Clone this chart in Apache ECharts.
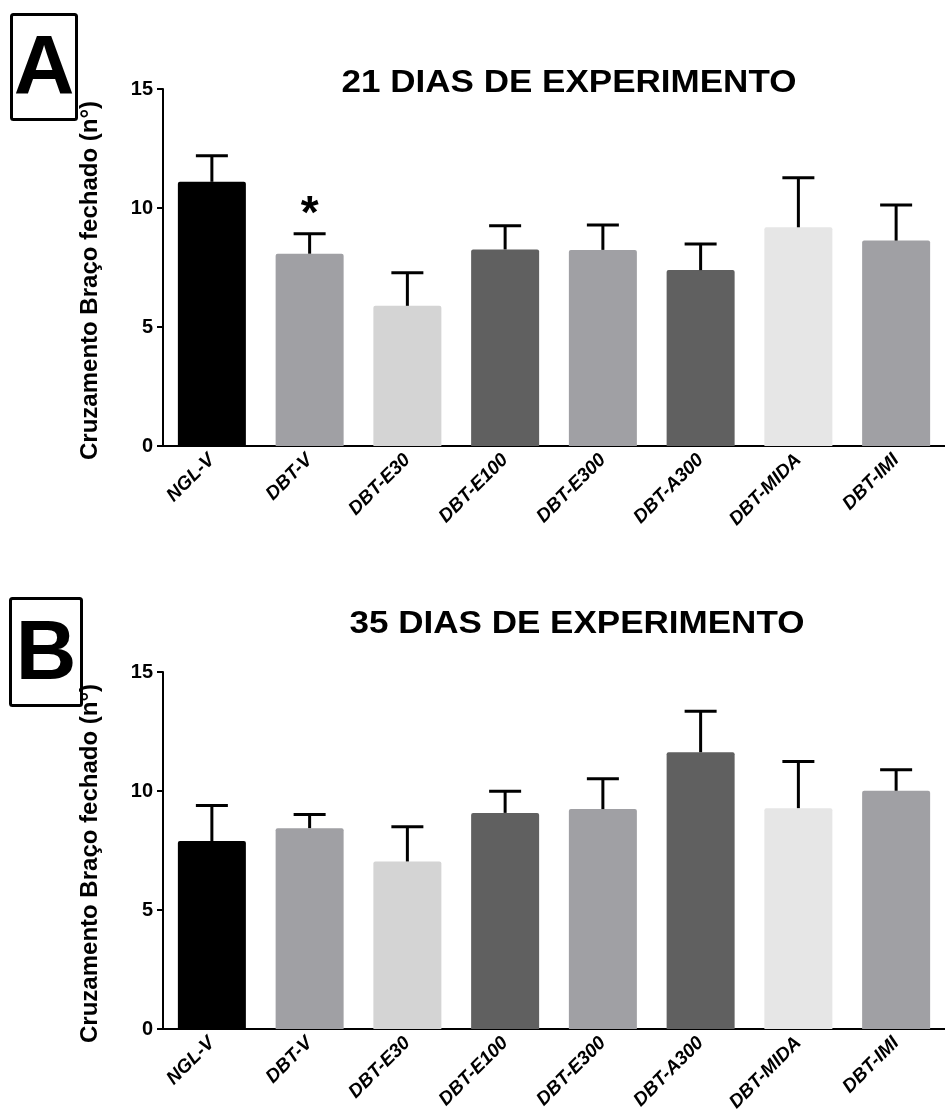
<!DOCTYPE html>
<html>
<head>
<meta charset="utf-8">
<script src="https://cdn.jsdelivr.net/npm/echarts@6/dist/echarts.min.js"></script>
<style>
  html, body { margin: 0; padding: 0; background: #fff; }
  #chart { width: 945px; height: 1120px; }
</style>
</head>
<body>
<div id="chart"></div>
<script>
// Groups tested in the elevated plus maze
const categories = ['NGL-V', 'DBT-V', 'DBT-E30', 'DBT-E100', 'DBT-E300', 'DBT-A300', 'DBT-MIDA', 'DBT-IMI'];
const barColors = ['#000000', '#a0a0a4', '#d4d4d4', '#606060', '#a0a0a4', '#606060', '#e6e6e6', '#a0a0a4'];

// 21 days: mean and SEM of closed-arm crossings
const mean21 = [11.1, 8.08, 5.89, 8.26, 8.24, 7.39, 9.19, 8.63];
const sem21 = [1.1, 0.84, 1.39, 0.99, 1.05, 1.1, 2.08, 1.5];
const sig21 = ['', '*', '', '', '', '', '', ''];

// 35 days: mean and SEM of closed-arm crossings
const mean35 = [7.9, 8.44, 7.04, 9.08, 9.24, 11.63, 9.28, 10.01];
const sem35 = [1.49, 0.57, 1.46, 0.91, 1.27, 1.72, 1.96, 0.88];
const sig35 = ['', '', '', '', '', '', '', ''];

const yTicks = [0, 5, 10, 15];
const titleA = '21 DIAS DE EXPERIMENTO';
const titleB = '35 DIAS DE EXPERIMENTO';
const yName = 'Cruzamento Braço fechado (n°)';

const FONT = '"Liberation Sans", Arial, Helvetica, sans-serif';

function barData(means) {
  return means.map((v, i) => ({
    value: v,
    itemStyle: { color: barColors[i], borderRadius: [2, 2, 0, 0] }
  }));
}

function errData(means, sems) {
  return means.map((m, i) => [i, m, m + sems[i]]);
}

// upper whisker with cap, plus an optional significance mark above it
function makeErrRenderer(sig) {
  return function (params, api) {
    const i = api.value(0);
    const base = api.coord([i, api.value(1)]);
    const top = api.coord([i, api.value(2)]);
    const capHalf = 16;
    const style = { stroke: '#000', lineWidth: 3 };
    const children = [
      { type: 'line', shape: { x1: base[0], y1: base[1], x2: top[0], y2: top[1] }, style },
      { type: 'line', shape: { x1: top[0] - capHalf, y1: top[1], x2: top[0] + capHalf, y2: top[1] }, style }
    ];
    const mark = sig[params.dataIndex];
    if (mark) {
      children.push({
        type: 'text',
        style: {
          text: mark, x: top[0], y: top[1] + 5,
          align: 'center', verticalAlign: 'bottom',
          font: 'bold 46px ' + FONT, fill: '#000'
        }
      });
    }
    return { type: 'group', children };
  };
}

function xAxisCfg(gridIndex) {
  return {
    type: 'category', gridIndex, data: categories,
    axisLine: { lineStyle: { color: '#000', width: 2 } },
    axisTick: { alignWithLabel: true, length: 6, lineStyle: { color: '#000', width: 2 } },
    axisLabel: {
      rotate: 45, margin: 11, interval: 0,
      fontFamily: FONT, fontSize: 19, fontWeight: 'bold', fontStyle: 'italic', color: '#000'
    }
  };
}

function yAxisCfg(gridIndex) {
  return {
    type: 'value', gridIndex, min: 0, max: 15, interval: 5,
    name: yName, nameLocation: 'middle', nameGap: 61, nameRotate: 90,
    nameTextStyle: { fontFamily: FONT, fontSize: 24, fontWeight: 'bold', color: '#000', padding: [0, 26, 0, 0] },
    axisLine: { show: true, lineStyle: { color: '#000', width: 2 } },
    axisTick: { show: true, length: 6, lineStyle: { color: '#000', width: 2 } },
    axisLabel: {
      margin: 10, fontFamily: FONT, fontSize: 20, fontWeight: 'bold', color: '#000',
      formatter: v => (yTicks.indexOf(v) >= 0 ? String(v) : '')
    },
    splitLine: { show: false }
  };
}

function panelTag(letter, x, y, w, h) {
  return {
    type: 'group', left: x, top: y,
    children: [
      { type: 'rect', shape: { x: 0, y: 0, width: w, height: h, r: 2 },
        style: { fill: '#fff', stroke: '#000', lineWidth: 3 } },
      { type: 'text', x: w / 2, y: h / 2 + 4,
        style: { text: letter, font: 'bold 84px ' + FONT, fill: '#000', align: 'center', verticalAlign: 'middle' } }
    ]
  };
}

function titleText(text, cx, top) {
  return {
    type: 'text', x: cx, y: top, scaleX: 1.13, originX: 0,
    style: { text, font: 'bold 31px ' + FONT, fill: '#000', align: 'center', verticalAlign: 'top' }
  };
}

const chart = echarts.init(document.getElementById('chart'), null, { renderer: 'canvas' });
chart.setOption({
  animation: false,
  backgroundColor: '#fff',
  grid: [
    { left: 163, right: -7, top: 89, bottom: 674 },
    { left: 163, right: -7, top: 672, bottom: 91 }
  ],
  xAxis: [xAxisCfg(0), xAxisCfg(1)],
  yAxis: [yAxisCfg(0), yAxisCfg(1)],
  series: [
    { type: 'bar', xAxisIndex: 0, yAxisIndex: 0, barWidth: 68, data: barData(mean21) },
    { type: 'custom', xAxisIndex: 0, yAxisIndex: 0, renderItem: makeErrRenderer(sig21),
      encode: { x: 0, y: [1, 2] }, data: errData(mean21, sem21), z: 5 },
    { type: 'bar', xAxisIndex: 1, yAxisIndex: 1, barWidth: 68, data: barData(mean35) },
    { type: 'custom', xAxisIndex: 1, yAxisIndex: 1, renderItem: makeErrRenderer(sig35),
      encode: { x: 0, y: [1, 2] }, data: errData(mean35, sem35), z: 5 }
  ],
  graphic: [
    titleText(titleA, 569, 68),
    titleText(titleB, 577, 609),
    panelTag('A', 10, 13, 65, 105),
    panelTag('B', 9, 597, 71, 107)
  ]
});
</script>
</body>
</html>
